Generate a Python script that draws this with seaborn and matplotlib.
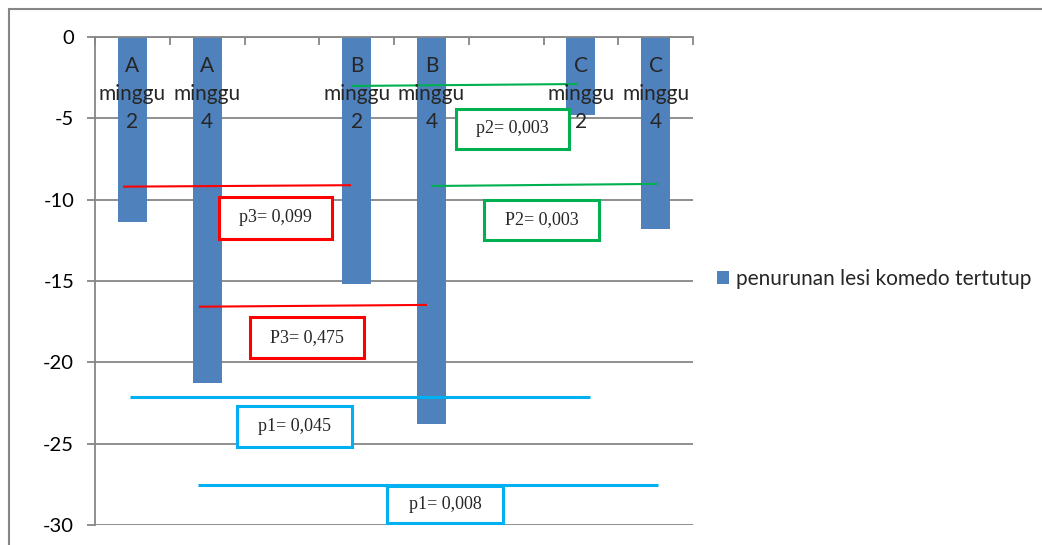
import numpy as np
import pandas as pd
import matplotlib
matplotlib.use("Agg")
import matplotlib.pyplot as plt
import matplotlib.transforms as mtransforms
from matplotlib.patches import Rectangle
from matplotlib.lines import Line2D
import seaborn as sns

# data
slots = ["A minggu 2", "A minggu 4", " ", "B minggu 2", "B minggu 4", "  ", "C minggu 2", "C minggu 4"]
categories = ["A minggu 2", "A minggu 4", "B minggu 2", "B minggu 4", "C minggu 2", "C minggu 4"]
values = [-11.4, -21.3, -15.2, -23.8, -4.8, -11.8]
series = "penurunan lesi komedo tertutup"
yticks = [0, -5, -10, -15, -20, -25, -30]

# comparison annotations: label, colour, line (x0, x1, y0, y1), box (x0, x1, y0, y1)
notes = [
    ("p3= 0,099", "#FF0000", (-0.125, 2.925, -9.2, -9.11), (1.159, 2.671, -9.83, -12.42)),
    ("P3= 0,475", "#FF0000", (0.891, 3.941, -16.58, -16.47), (1.574, 3.099, -17.21, -19.73)),
    ("p1= 0,045", "#00B0F0", (-0.032, 6.122, -22.13, -22.13), (1.400, 2.938, -22.68, -25.2)),
    ("p1= 0,008", "#00B0F0", (0.878, 7.032, -27.54, -27.54), (3.406, 4.958, -27.6, -29.9)),
    ("p2= 0,003", "#00B050", (2.925, 5.961, -3.01, -2.89), (4.329, 5.841, -4.43, -6.88)),
    ("P2= 0,003", "#00B050", (3.995, 7.032, -9.16, -9.03), (4.704, 6.243, -10.02, -12.48)),
]

sns.set_style("white")
plt.rcParams["font.family"] = ["Lato", "DejaVu Sans"]
plt.rcParams["axes.unicode_minus"] = False

df = pd.DataFrame({"kategori": categories, "nilai": values, "seri": series})

fig = plt.figure(figsize=(10.42, 5.45), dpi=100)
ax = fig.add_axes([95 / 1042, 20 / 545, 598 / 1042, 488 / 545])

grid = "#868686"
sns.barplot(data=df, x="kategori", y="nilai", hue="seri", order=slots,
            palette=["#4F81BD"], saturation=1, width=0.39, linewidth=0,
            ax=ax, zorder=2)

ax.set_ylim(-30, 0)
ax.set_xlim(-0.5, len(slots) - 0.5)
ax.set_yticks(yticks)
ax.set_yticklabels([str(v) for v in yticks])
ax.yaxis.grid(True, color=grid, linewidth=1.3, zorder=0)
ax.set_axisbelow(True)
ax.set_xlabel("")
ax.set_ylabel("")

for s in ["right", "bottom"]:
    ax.spines[s].set_visible(False)
for s in ["left", "top"]:
    ax.spines[s].set_color(grid)
    ax.spines[s].set_linewidth(1.3)

ax.tick_params(axis="y", left=True, length=6, width=1.3, color=grid, pad=9,
               labelsize=14.5, labelcolor="black")
ax.set_xticks(range(len(slots)))
ax.set_xticklabels([])
ax.tick_params(axis="x", which="major", bottom=False, top=False)
ax.set_xticks(np.arange(-0.5, len(slots), 1), minor=True)
ax.tick_params(axis="x", which="minor", top=True, bottom=False, direction="in",
               length=6, width=1.3, color=grid)

# category labels just under the top axis
trans = mtransforms.blended_transform_factory(ax.transData, ax.transAxes)
for i, name in enumerate(slots):
    if not name.strip():
        continue
    grp, word, wk = name.split()
    ax.text(i, 0.962, f"{grp}\n{word}\n{wk}", transform=trans, ha="center", va="top",
            fontsize=15, linespacing=1.52, zorder=5)

# comparison lines and boxes
for label, col, (lx0, lx1, ly0, ly1), (bx0, bx1, by0, by1) in notes:
    lw = 2.2 if col == "#00B0F0" else 1.5
    ax.plot([lx0, lx1], [ly0, ly1], color=col, linewidth=lw, zorder=4,
            solid_capstyle="butt", clip_on=False)
    ax.add_patch(Rectangle((bx0, by0), bx1 - bx0, by1 - by0, facecolor="white",
                           edgecolor=col, linewidth=2.2, zorder=4, clip_on=False))
    ax.text((bx0 + bx1) / 2, (by0 + by1) / 2, label, ha="center", va="center",
            fontsize=13, family=["Liberation Serif", "DejaVu Serif"], zorder=5)

sns.move_legend(ax, loc="center left", bbox_to_anchor=(1.04, 0.504), title=None,
                frameon=False, fontsize=15, handlelength=0.6, handleheight=0.6,
                handletextpad=0.32, borderaxespad=0, borderpad=0)

# outer chart frame (cut at right and bottom)
fig.add_artist(Line2D([9 / 1042, 1.0], [1 - 9 / 545, 1 - 9 / 545], color=grid, linewidth=1.5))
fig.add_artist(Line2D([9 / 1042, 9 / 1042], [0.0, 1 - 9 / 545], color=grid, linewidth=1.5))

fig.savefig("out.png", dpi=100)
